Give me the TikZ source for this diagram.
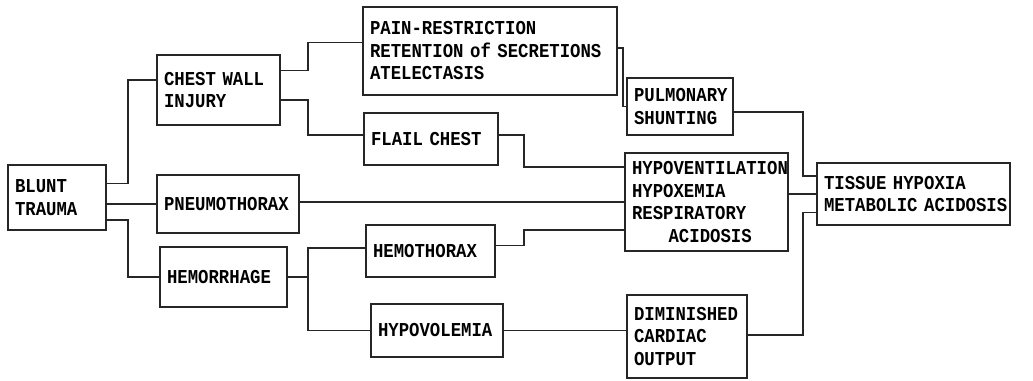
\documentclass[tikz,border=0pt]{standalone}
\usepackage{fontspec}
\newfontfamily\boxfont[FakeStretch=0.88]{Liberation Mono}
\usepackage{tikz}
\hyphenpenalty=10000
\exhyphenpenalty=10000

\begin{document}
\begin{tikzpicture}[x=0.25mm,y=0.25mm,
        blk/.style 2 args={draw=black!85, line width=1.6pt, align=left,
            inner xsep=5pt, inner ysep=2pt,
            minimum width=#1*0.25mm, minimum height=#2*0.25mm,
            text width=#1*0.25mm-10pt,
            font=\boxfont\bfseries\fontsize{14}{16}\selectfont},
        wire/.style={draw=black!85, line width=1.1pt}]
	        \useasboundingbox (0,0) rectangle (1033,380);

	        \node[blk={98}{65}] (blunt) at (57,182.5) {BLUNT\\TRAUMA};
	        \node[blk={123}{70}] (chest) at (218.5,290) {CHEST~WALL\\INJURY};
	        \node[blk={142}{58}] (pneumo) at (228,176) {PNEUMOTHORAX};
	        \node[blk={127}{60}] (hemorr) at (223.5,103) {HEMORRHAGE};

	        \node[blk={254}{88}] (pain) at (490,329) {PAIN-RESTRICTION\\RETENTION~of~SECRETIONS\\ATELECTASIS};
	        \node[blk={134}{52}] (flail) at (431,241) {FLAIL~CHEST};
	        \node[blk={129}{52}] (hemoth) at (430.5,129) {HEMOTHORAX};
	        \node[blk={132}{53}] (hypovol) at (437,49.5) {HYPOVOLEMIA};

	        \node[blk={106}{57}] (pulm) at (680,273.5) {PULMONARY\\SHUNTING};
	        \node[blk={163}{98}] (hypovent) at (706.5,178) {HYPOVENTILATION\\HYPOXEMIA\\RESPIRATORY\\\hspace*{26pt}ACIDOSIS};
	        \node[blk={120}{83}] (dimin) at (687,43.5) {DIMINISHED\\CARDIAC\\OUTPUT};
	        \node[blk={193}{62}] (tissue) at (913.5,186) {TISSUE~HYPOXIA\\METABOLIC~ACIDOSIS};

	        \draw[wire] ([yshift=10pt]blunt.east) -- ++(21,0) |- ([yshift=7pt]chest.west);
	        \draw[wire] (blunt.east |- pneumo.west) -- (pneumo.west);
	        \draw[wire] ([yshift=-16pt]blunt.east) -- ++(21,0) |- (hemorr.west);

	        \draw[wire] ([yshift=14pt]chest.east) -- ++(27,0) |- ([yshift=6pt]pain.west);
	        \draw[wire] ([yshift=-7pt]chest.east) -- ++(27,0) |- ([yshift=3pt]flail.west);
	        \draw[wire] (hemorr.east) -- ++(20,0) |- ([yshift=2pt]hemoth.west);
	        \draw[wire] (hemorr.east) -- ++(20,0) |- (hypovol.west);

	        \draw[wire] ([yshift=2pt]pain.east) -- ++(5,0) |- (pulm.west);
	        \draw[wire] ([yshift=3pt]flail.east) -- ++(25,0) |- ([yshift=25pt]hypovent.west);
	        \draw[wire] (pneumo.east |- hypovent.west) -- (hypovent.west);
	        \draw[wire] ([yshift=4pt]hemoth.east) -- ++(28,0) |- ([yshift=-20pt]hypovent.west);
	        \draw[wire] (hypovol.east) -- (hypovol.east -| dimin.west);

	        \draw[wire] ([yshift=-4pt]pulm.east) -- ++(69,0) |- ([yshift=13pt]tissue.west);
	        \draw[wire] (hypovent.east |- tissue.west) -- (tissue.west);
	        \draw[wire] ([yshift=1pt]dimin.east) -- ++(55,0) |- ([yshift=-13pt]tissue.west);
	    \end{tikzpicture}
\end{document}
